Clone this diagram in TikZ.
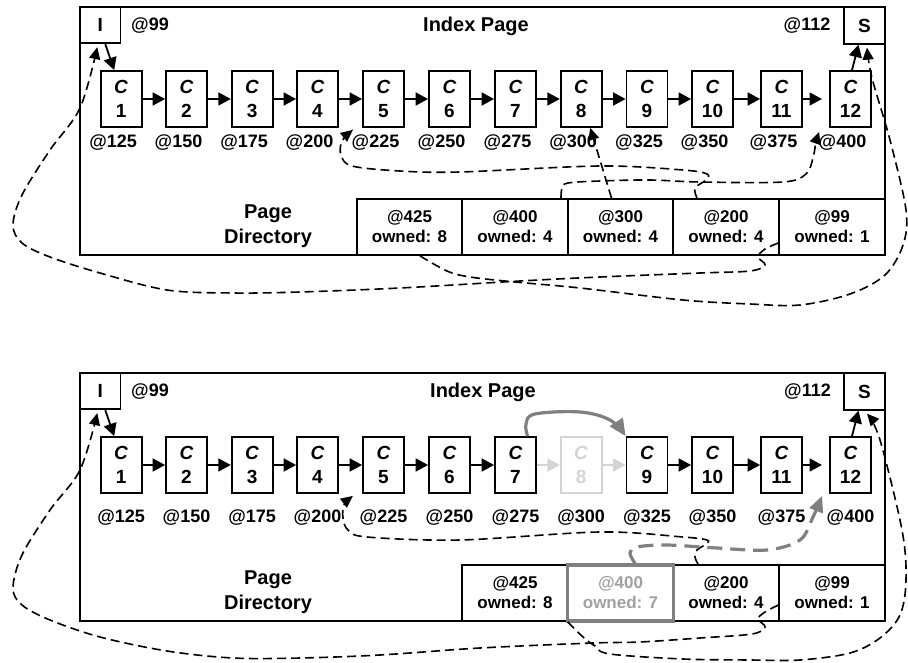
\documentclass[tikz,border=0pt]{standalone}
\usepackage{fontspec}
\setmainfont{Liberation Sans}
\usetikzlibrary{arrows.meta}
\definecolor{midgray}{HTML}{808080}
\definecolor{txtgray}{HTML}{A0A0A0}
\definecolor{ghost}{HTML}{D4D4D4}
\begin{document}
\begin{tikzpicture}[x=1pt,y=-1pt,
  pagebox/.style={draw, line width=1.8pt},
  cbox/.style={draw, line width=1.8pt, minimum width=41pt, minimum height=56pt, inner sep=0pt, align=center, font=\fontsize{19}{24}\selectfont\bfseries},
  ghostbox/.style={cbox, draw=ghost, text=ghost},
  corner/.style={draw, line width=1.8pt, minimum width=40.5pt, minimum height=36.5pt, inner sep=0pt, font=\fontsize{19}{22}\selectfont\bfseries},
  addr/.style={font=\fontsize{18}{20}\selectfont\bfseries, inner sep=0pt},
  title/.style={font=\fontsize{20}{25}\selectfont\bfseries, align=center, inner sep=0pt},
  slot/.style={draw, line width=1.8pt, minimum width=105.5pt, minimum height=56pt, inner sep=0pt, align=center, font=\fontsize{17}{20}\selectfont\bfseries},
  oldslot/.style={slot, draw=midgray, line width=3.2pt, text=txtgray},
  link/.style={line width=1.8pt, -{Triangle[length=12.5pt,width=13pt]}},
  ghostlink/.style={link, draw=ghost},
  dptr/.style={line width=1.6pt, dash pattern=on 9pt off 5pt, -{Triangle[length=12pt,width=11pt]}},
  gptr/.style={draw=midgray, line width=3.2pt, dash pattern=on 15pt off 8pt, -{Triangle[length=16pt,width=14pt]}},
  bypass/.style={draw=midgray, line width=3.2pt, -{Triangle[length=17pt,width=15pt]}}
]
\useasboundingbox (0,0) rectangle (908,663);

% ================= TOP PANEL =================
\draw[pagebox] (80,7) rectangle (885,255);
\node[corner] (It) at (100.3,25) {I};
\node[corner] (St) at (864.5,25.5) {S};
\node[addr] (t99t) at (150,26) {@99};
\node[addr] (t112t) at (807,26) {@112};
\node[title] (idxt) at (476,26) {Index Page};
\node[title] (pdt) at (268,226.5) {Page\\Directory};

\foreach \i/\x in {1/121.2,2/186.5,3/252.2,4/317.5,5/383.5,6/449.5,7/515.5,8/581.2,9/647,10/712.5,11/781.5,12/850.5}{
  \pgfmathtruncatemacro\ad{100+25*\i}
  \node[cbox] (ct\i) at (\x,99) {\textit{C}\\\i};
  \node[addr] (at\i) at (\x-8,143) {@\ad};
}
\foreach \i [evaluate=\i as \j using int(\i+1)] in {1,...,10}{
  \draw[link] (ct\i) -- (ct\j);
}
\coordinate (k12t) at (822,99);
\draw[link] (ct11) -- (k12t);
\draw[link] ([xshift=5pt]It.south) -- ([xshift=-7pt]ct1.north);
\draw[link] ([xshift=1.5pt]ct12.north) -- ([xshift=-6pt]St.south);

\node[slot] (s425t) at (409.5,227) {@425\\owned: 8};
\node[slot] (s400t) at (515,227) {@400\\owned: 4};
\node[slot] (s300t) at (620.5,227) {@300\\owned: 4};
\node[slot] (s200t) at (726,227) {@200\\owned: 4};
\node[slot] (s99t) at (832,227) {@99\\owned: 1};

% @99 -> infimum
\draw[dptr] plot[smooth, tension=0.55] coordinates {([yshift=-16pt]s99t.west) (765,249) (758,257) (765,265) (750,271) (700,273) (600,277) (520,281) (400,288) (300,292) (233,293) (167,290) (100,273) (50,257) (22,243) (13,225) (22,195) (50,150) (80,108) ([xshift=-3pt,yshift=-3pt]It.south)};
% @425 -> supremum
\draw[dptr] plot[smooth, tension=0.55] coordinates {([xshift=10.5pt]s425t.south) (447,271) (470,277) (515,282) (580,288) (683,300) (750,304) (800,305) (850,294) (885,275) (903,245) (906,210) (890,140) (872,78) ([xshift=2.5pt,yshift=-3pt]St.south)};
% @200 -> C4
\draw[dptr] plot[smooth, tension=0.55] coordinates {([xshift=-29pt]s200t.north) (695,188) (706,180) (707,174) (683,170) (600,166) (460,172) (400,171) (352,166) (341,155) (342,141) ([xshift=14pt,yshift=-2pt]ct4.south east)};
% @300 -> C8
\draw[dptr] ([xshift=-9pt]s300t.north) -- ([xshift=9pt]ct8.south);
% @400 -> C12
\draw[dptr] plot[smooth, tension=0.55] coordinates {([xshift=46pt]s400t.north) (562,188) (568,183) (600,181) (650,180) (700,182) (783,182) (806,174) (813,158) (816,142) ([xshift=-10pt,yshift=-4pt]ct12.south west)};

% ================= BOTTOM PANEL =================
\draw[pagebox] (80,373) rectangle (885,621);
\node[corner] (Ib) at (100.3,391) {I};
\node[corner] (Sb) at (864.5,391.5) {S};
\node[addr] (t99b) at (150,392) {@99};
\node[addr] (t112b) at (807.5,392) {@112};
\node[title] (idxb) at (483,392) {Index Page};
\node[title] (pdb) at (268,592.5) {Page\\Directory};

\foreach \i/\x in {1/121.2,2/186.5,3/252.2,4/317.5,5/383.5,6/449.5,7/515.5,9/647,10/712.5,11/781.5,12/850.5}{
  \pgfmathtruncatemacro\ad{100+25*\i}
  \node[cbox] (cb\i) at (\x,465) {\textit{C}\\\i};
  \node[addr] (ab\i) at (\x,518) {@\ad};
}
\node[ghostbox] (cb8) at (581.2,465) {\textit{C}\\8};
\node[addr] (ab8) at (581.2,518) {@300};
\foreach \i [evaluate=\i as \j using int(\i+1)] in {1,...,6,9,10}{
  \draw[link] (cb\i) -- (cb\j);
}
\draw[ghostlink] (cb7) -- (cb8);
\draw[ghostlink] (cb8) -- (cb9);
\coordinate (k12b) at (822,465);
\draw[link] (cb11) -- (k12b);
\draw[link] ([xshift=5pt]Ib.south) -- ([xshift=-7pt]cb1.north);
\draw[link] ([xshift=1.5pt]cb12.north) -- ([xshift=-6pt]Sb.south);
\draw[bypass] plot[smooth, tension=0.6] coordinates {([xshift=12pt]cb7.north) (526,424) (535,414) (580,412) (610,420) (cb9.north west)};

\node[slot] (s425b) at (515,593) {@425\\owned: 8};
\node[slot] (s200b) at (726,593) {@200\\owned: 4};
\node[slot] (s99b) at (832,593) {@99\\owned: 1};
\node[oldslot] (s400b) at (620.5,593) {@400\\owned: 7};

% @99 -> infimum
\draw[dptr] plot[smooth, tension=0.55] coordinates {([yshift=-12pt]s99b.west) (765,612) (758,619) (765,627) (752,634) (700,638) (640,642) (593,643) (480,648) (380,655) (300,658) (233,658) (167,651) (100,637) (50,620) (22,605) (13,588) (22,555) (50,510) (80,470) ([xshift=-3pt,yshift=-3pt]Ib.south)};
% @425 -> supremum
\draw[dptr] plot[smooth, tension=0.55] coordinates {([xshift=-1pt]s425b.south east) (583,637) (595,646) (610,654) (683,659) (750,660) (800,660) (850,653) (880,638) (900,615) (906,580) (902,530) (880,440) ([xshift=2.5pt,yshift=-3pt]Sb.south)};
% @200 -> C4
\draw[dptr] plot[smooth, tension=0.55] coordinates {([xshift=-28pt]s200b.north) (695,557) (697,550) (706,544) (707,540) (683,537) (600,532) (460,540) (367,537) (348,530) (343,518) (344,505) ([xshift=14pt,yshift=-2pt]cb4.south east)};
% @400 -> C12 (gray)
\draw[gptr] plot[smooth, tension=0.55] coordinates {([xshift=14.5pt]s400b.north) (630,553) (637,547) (667,545) (717,548) (767,550) (800,540) (813,517) ([xshift=-7pt,yshift=-2pt]cb12.south west)};
\end{tikzpicture}
\end{document}
